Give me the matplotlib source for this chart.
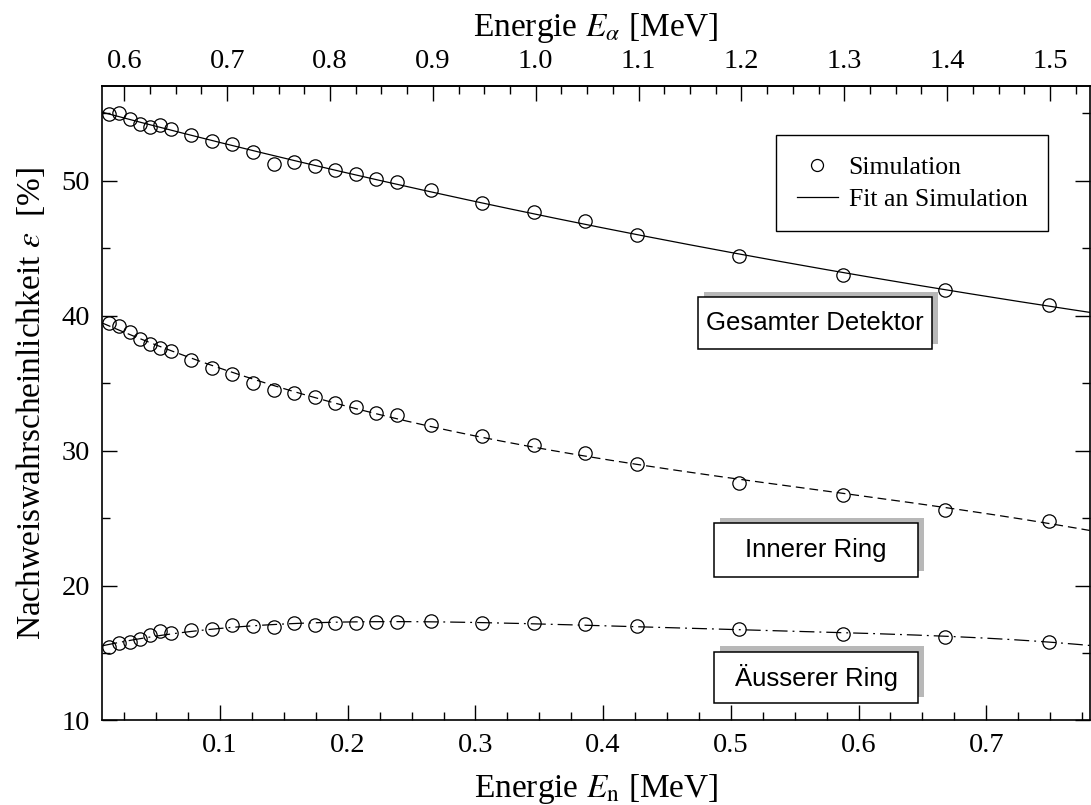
import numpy as np
import matplotlib
matplotlib.use("Agg")
import matplotlib.pyplot as plt
from matplotlib.ticker import MultipleLocator, FormatStrFormatter
from matplotlib.patches import Rectangle

plt.rcParams['font.family'] = ['Liberation Serif', 'DejaVu Serif']
plt.rcParams['mathtext.fontset'] = 'stix'

# neutron energies of the simulation points [MeV]
e_n = [0.0130, 0.0210, 0.0291, 0.0371, 0.0452, 0.0533, 0.0613, 0.0774, 0.0935,
       0.1096, 0.1257, 0.1419, 0.1580, 0.1741, 0.1902, 0.2063, 0.2224, 0.2385,
       0.2650, 0.3055, 0.3455, 0.3860, 0.4265, 0.5065, 0.5875, 0.6680, 0.7490]

# detection efficiency [%]
eff_total = [54.9, 55.0, 54.6, 54.2, 54.0, 54.15, 53.8, 53.4, 52.9, 52.7, 52.1,
             51.2, 51.4, 51.1, 50.8, 50.5, 50.1, 49.9, 49.3, 48.35, 47.65, 47.0,
             46.0, 44.4, 43.0, 41.9, 40.8]
eff_inner = [39.45, 39.2, 38.8, 38.3, 37.9, 37.6, 37.35, 36.7, 36.1, 35.7, 35.0,
             34.45, 34.3, 34.0, 33.5, 33.2, 32.8, 32.6, 31.9, 31.1, 30.4, 29.8,
             29.0, 27.6, 26.7, 25.6, 24.8]
eff_outer = [15.45, 15.75, 15.8, 16.0, 16.3, 16.6, 16.45, 16.7, 16.8, 17.1, 17.0,
             16.9, 17.2, 17.1, 17.2, 17.25, 17.3, 17.3, 17.35, 17.2, 17.2, 17.15,
             17.0, 16.8, 16.4, 16.2, 15.85]

box_labels = ['Gesamter Detektor', 'Innerer Ring', '\u00c4usserer Ring']

# top axis: E_alpha = a + b * E_n
ea_a = 0.5689
ea_b = 1.2416
top_ticks = [0.6, 0.7, 0.8, 0.9, 1.0, 1.1, 1.2, 1.3, 1.4, 1.5]

xmin, xmax = 0.0078, 0.781
ymin, ymax = 10, 57

fig = plt.figure(figsize=(10.91, 8.05), dpi=100)
ax = fig.add_axes([0.0938, 0.105, 0.905, 0.788])

x = np.array(e_n)
xf = np.linspace(xmin, xmax, 400)
styles = [dict(ls='-'), dict(dashes=(7, 4)), dict(dashes=(12, 4, 1.5, 4))]
degs = [3, 3, 4]
for eff, st, dg in zip([eff_total, eff_inner, eff_outer], styles, degs):
    # polynomial fit to the simulated points
    c = np.polyfit(x, eff, dg)
    ax.plot(xf, np.polyval(c, xf), color='black', lw=0.9, **st)
    ax.plot(x, eff, ls='none', marker='o', ms=9.6, mfc='none', mec='black', mew=0.9)

# legend handles
ax.plot([], [], ls='none', marker='o', ms=9.6, mfc='none', mec='black', mew=0.9,
        label='Simulation')
ax.plot([], [], color='black', lw=0.9, label='Fit an Simulation')
h, l = ax.get_legend_handles_labels()
leg = ax.legend(h[-2:], l[-2:], loc='upper left', bbox_to_anchor=(0.6824, 0.9228),
                borderaxespad=0, borderpad=0.8, handlelength=1.62, handletextpad=0.4,
                labelspacing=0.35, fancybox=False, edgecolor='black', framealpha=1,
                fontsize=18.5, markerscale=0.9)
leg.get_frame().set_linewidth(1.0)

ax.set_xlim(xmin, xmax)
ax.set_ylim(ymin, ymax)
ax.xaxis.set_major_locator(MultipleLocator(0.1))
ax.xaxis.set_minor_locator(MultipleLocator(0.025))
ax.xaxis.set_major_formatter(FormatStrFormatter('%.1f'))
ax.yaxis.set_major_locator(MultipleLocator(10))
ax.yaxis.set_minor_locator(MultipleLocator(5))
ax.tick_params(which='both', direction='in', right=True, top=False, width=1.0,
               labelsize=20.5)
ax.tick_params(which='major', length=11, pad=9)
ax.tick_params(which='minor', length=5.5)
for s in ax.spines.values():
    s.set_linewidth(1.2)

sec = ax.secondary_xaxis('top', functions=(lambda e: ea_a + ea_b * e,
                                            lambda a: (a - ea_a) / ea_b))
sec.set_xticks(top_ticks)
sec.xaxis.set_minor_locator(MultipleLocator(0.025))
sec.xaxis.set_major_formatter(FormatStrFormatter('%.1f'))
sec.tick_params(which='both', direction='in', width=1.0, labelsize=20.5)
sec.tick_params(which='major', length=11, pad=9)
sec.tick_params(which='minor', length=5.5)
sec.spines['top'].set_linewidth(1.2)
sec.set_xlabel(r'Energie $E_\alpha$ [MeV]', fontsize=24, labelpad=9)

ax.set_xlabel(r'Energie $E_\mathrm{n}$ [MeV]', fontsize=24, labelpad=10)
ax.set_ylabel(r'Nachweiswahrscheinlichkeit $\varepsilon$  [%]', fontsize=24, labelpad=10)

# labelled boxes with grey shadow (axes fraction: left, bottom, width, height)
boxes = [(0.6034, 0.5855, 0.2370, 0.0820),
         (0.6197, 0.2266, 0.2065, 0.0842),
         (0.6197, 0.0276, 0.2065, 0.0808)]
for (bx, by, bw, bh), txt in zip(boxes, box_labels):
    ax.add_patch(Rectangle((bx + 0.0061, by + 0.0087), bw, bh, transform=ax.transAxes,
                           facecolor='#b8b8b8', edgecolor='none', zorder=5))
    ax.add_patch(Rectangle((bx, by), bw, bh, transform=ax.transAxes,
                           facecolor='white', edgecolor='black', lw=1.1, zorder=6))
    ax.text(bx + bw / 2, by + bh / 2, txt, transform=ax.transAxes, ha='center',
            va='center', fontsize=18.5, family=['Liberation Sans', 'DejaVu Sans'],
            zorder=7)

fig.savefig('out.png', dpi=100)
